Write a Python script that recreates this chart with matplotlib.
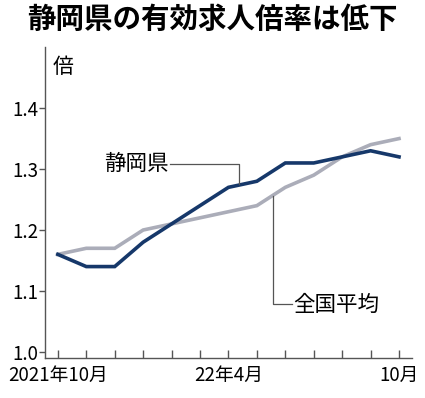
import matplotlib.pyplot as plt
import numpy as np

plt.rcParams['font.family'] = ['Noto Sans CJK JP', 'DejaVu Sans']

# monthly, 2021/10 .. 2022/10
months = np.arange(13)
shizuoka = [1.16, 1.14, 1.14, 1.18, 1.21, 1.24, 1.27, 1.28, 1.31, 1.31, 1.32, 1.33, 1.32]
national = [1.16, 1.17, 1.17, 1.20, 1.21, 1.22, 1.23, 1.24, 1.27, 1.29, 1.32, 1.34, 1.35]
xlabels = {0: '2021年10月', 6: '22年4月', 12: '10月'}
yticks = [1.0, 1.1, 1.2, 1.3, 1.4]

navy = '#16386a'
grey = '#abadb9'
dark = '#555555'

fig = plt.figure(figsize=(4.25, 3.98), dpi=100)
ax = fig.add_axes([0.106, 0.1005, 0.863, 0.781])

ax.plot(months, national, color=grey, lw=2.6, solid_joinstyle='miter')
ax.plot(months, shizuoka, color=navy, lw=2.6, solid_joinstyle='miter')

ax.set_xlim(-0.45, 12.45)
ax.set_ylim(0.99, 1.50)

ax.set_yticks(yticks)
ax.set_yticklabels(['%.1f' % v for v in yticks])
ax.set_xticks(months)
ax.set_xticklabels([xlabels.get(m, '') for m in months])

ax.tick_params(axis='y', direction='out', length=4, width=1, color=dark,
               labelsize=13.5, pad=1)
ax.tick_params(axis='x', direction='in', length=6, width=1, color=dark,
               labelsize=13.5, pad=5)

for s in ['top', 'right']:
    ax.spines[s].set_visible(False)
for s in ['left', 'bottom']:
    ax.spines[s].set_color(dark)
    ax.spines[s].set_linewidth(1)

# leader lines + labels
ax.plot([3.95, 6.36, 6.36], [1.308, 1.308, 1.276], color=dark, lw=0.9)
ax.text(3.9, 1.308, '静岡県', fontsize=15.5, ha='right', va='center')

ax.plot([7.57, 7.57, 8.22], [1.255, 1.079, 1.079], color=dark, lw=0.9)
ax.text(8.27, 1.077, '全国平均', fontsize=15.5, ha='left', va='center')

fig.text(53 / 425, 1 - 56 / 398, '倍', fontsize=15, ha='left', va='top')
fig.text(0.5, 0.985, '静岡県の有効求人倍率は低下', fontsize=20.5,
         fontweight='bold', ha='center', va='top')

plt.savefig('out.png', dpi=100)
